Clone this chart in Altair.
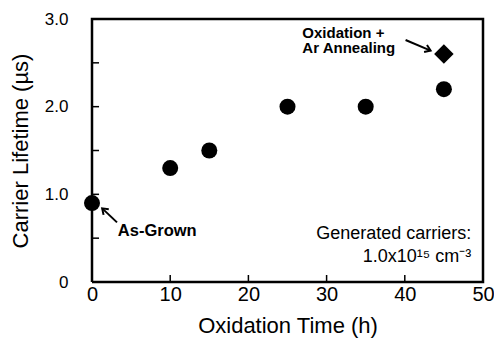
import altair as alt
import pandas as pd

# Data
ox_time = [0, 10, 15, 25, 35, 45]
lifetime = [0.9, 1.3, 1.5, 2.0, 2.0, 2.2]
anneal_time = [45]
anneal_lifetime = [2.6]
x_ticks = [10, 20, 30, 40]
y_ticks = [0.5, 1.0, 1.5, 2.0, 2.5]
y_labels = [0, 1, 2, 3]
x_labels = [0, 10, 20, 30, 40, 50]

FONT = "Liberation Sans"
W, H = 391, 263

xs = alt.Scale(domain=[0, 50], nice=False, zero=False)
ys = alt.Scale(domain=[0, 3], nice=False, zero=False)

df_main = pd.DataFrame({"t": ox_time, "tau": lifetime})
df_ann = pd.DataFrame({"t": anneal_time, "tau": anneal_lifetime})

x_axis = alt.Axis(values=x_labels, title="Oxidation Time (h)", grid=False, domain=False,
                  ticks=False, labelFontSize=20, titleFontSize=22, labelPadding=2,
                  titlePadding=11, labelColor="black", titleColor="black",
                  labelFont=FONT, titleFont=FONT, titleFontWeight="normal", labelFlush=False)
y_axis = alt.Axis(values=y_labels, title="Carrier Lifetime (µs)", grid=False, domain=False,
                  ticks=False, labelFontSize=17, titleFontSize=22, labelPadding=24,
                  titlePadding=12, labelColor="black", titleColor="black",
                  labelFont=FONT, titleFont=FONT, titleFontWeight="normal",
                  labelExpr="datum.value == 0 ? '0' : format(datum.value, '.1f')", labelFlush=False)

# Plot frame as a line through the four corners
corner_x = [0, 50, 50, 0, 0]
corner_y = [0, 0, 3, 3, 0]
frame_df = pd.DataFrame({"x": corner_x, "y": corner_y, "o": list(range(5))})
frame = alt.Chart(frame_df).mark_line(color="black", strokeWidth=2.5).encode(
    x=alt.X("x:Q", scale=xs), y=alt.Y("y:Q", scale=ys), order="o:O")

circles = alt.Chart(df_main).mark_point(shape="circle", filled=True, color="black", size=256, opacity=1).encode(
    x=alt.X("t:Q", scale=xs, axis=x_axis),
    y=alt.Y("tau:Q", scale=ys, axis=y_axis),
)
diamond = alt.Chart(df_ann).mark_point(shape="diamond", filled=True, color="black", size=380, opacity=1).encode(
    x=alt.X("t:Q", scale=xs),
    y=alt.Y("tau:Q", scale=ys),
)

# inward ticks as small segments
xt_df = pd.DataFrame({"x": [v for v in x_ticks for _ in (0, 1)],
                      "y": [0, 0.08] * len(x_ticks),
                      "k": [v for v in x_ticks for _ in (0, 1)]})
xt = alt.Chart(xt_df).mark_line(color="black", strokeWidth=1.5).encode(
    x=alt.X("x:Q", scale=xs), y=alt.Y("y:Q", scale=ys), detail="k:N")
yt = alt.Chart(pd.DataFrame({"v": y_ticks, "lo": [0] * 5, "hi": [0.9] * 5})).mark_rule(
    color="black", strokeWidth=1.5).encode(
    y=alt.Y("v:Q", scale=ys), x=alt.X("lo:Q", scale=xs), x2="hi:Q")

# Arrows
arrows = pd.DataFrame({
    "x1": [3.2, 40.1], "y1": [0.68, 2.76],
    "x2": [1.3, 43.3], "y2": [0.84, 2.64],
    "ang": [313, 112],
})
arrow_lines = alt.Chart(arrows).mark_rule(color="black", strokeWidth=2).encode(
    x=alt.X("x1:Q", scale=xs), y=alt.Y("y1:Q", scale=ys), x2="x2:Q", y2="y2:Q")
arrow_heads = alt.Chart(arrows).mark_point(shape="M-0.7,1L0,0L0.7,1", filled=False, color="black",
                                           strokeWidth=2, size=120, opacity=1).encode(
    x=alt.X("x2:Q", scale=xs), y=alt.Y("y2:Q", scale=ys), angle=alt.Angle("ang:Q", scale=None))

def label(text, x, y, align="left", size=15, weight="bold"):
    return alt.Chart(pd.DataFrame({"x": [x], "y": [y], "s": [text]})).mark_text(
        align=align, baseline="middle", font=FONT, fontSize=size, fontWeight=weight, color="black").encode(
        x=alt.X("x:Q", scale=xs), y=alt.Y("y:Q", scale=ys), text="s:N")

texts = [
    label("As-Grown", 3.3, 0.58, size=16.5),
    label("Oxidation +", 26.9, 2.845),
    label("Ar Annealing", 26.9, 2.665),
    label("Generated carriers:", 48.5, 0.55, align="right", size=18, weight="normal"),
    label("1.0x10¹⁵ cm⁻³", 48.5, 0.28, align="right", size=18, weight="normal"),
]

chart = alt.layer(xt, yt, frame, arrow_lines, arrow_heads, circles, diamond, *texts).properties(
    width=W, height=H,
    background="white",
    autosize=alt.AutoSizeParams(type="none"),
    padding={"left": 92, "top": 19, "right": 11, "bottom": 60},
).configure_view(stroke=None)

chart.save("out.html", embed_options={"renderer": "svg", "actions": False})
